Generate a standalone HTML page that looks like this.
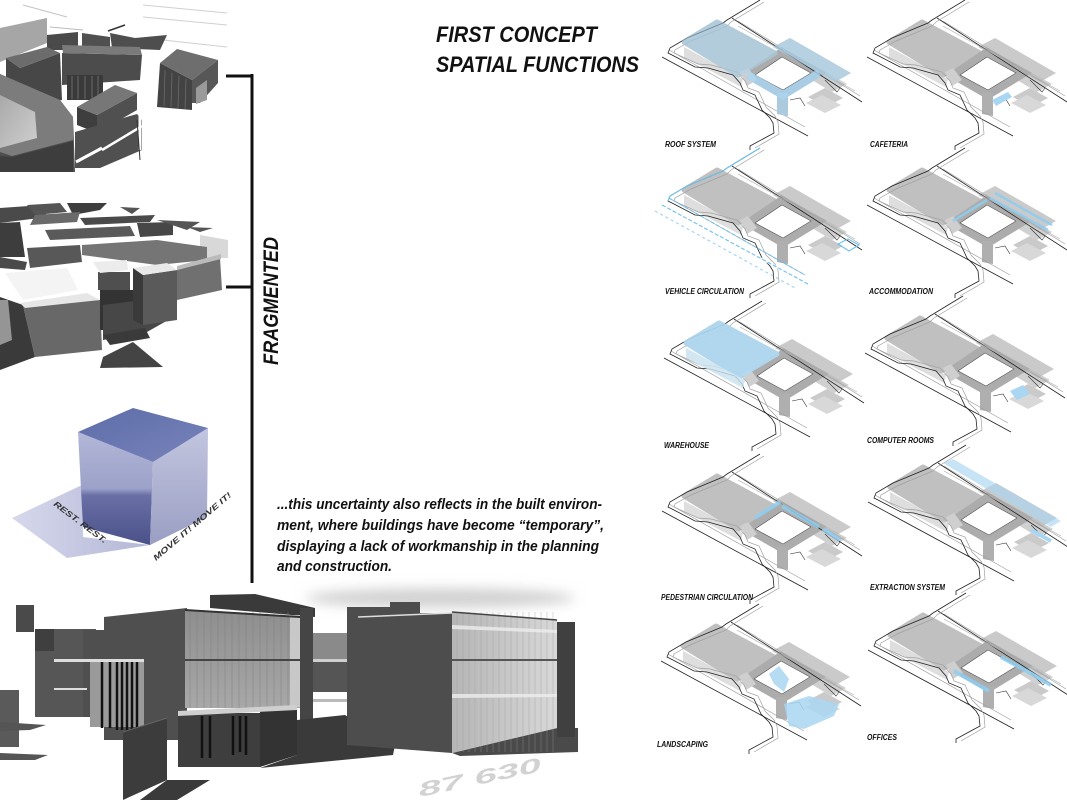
<!DOCTYPE html>
<html>
<head>
<meta charset="utf-8">
<style>
html,body{margin:0;padding:0;background:#fff;}
svg{display:block;}
text{font-family:"Liberation Sans",Arial,sans-serif;font-style:italic;font-weight:bold;}
</style>
</head>
<body>
<svg width="1067" height="800" viewBox="0 0 1067 800" xmlns="http://www.w3.org/2000/svg">
<defs>
  <linearGradient id="lface" x1="0" y1="0" x2="0" y2="1">
    <stop offset="0" stop-color="#b3b7d8"/>
    <stop offset="0.5" stop-color="#9ca1c9"/>
    <stop offset="0.56" stop-color="#6a70a6"/>
    <stop offset="1" stop-color="#4a5189"/>
  </linearGradient>
  <linearGradient id="rface" x1="0" y1="0" x2="0" y2="1">
    <stop offset="0" stop-color="#c3c6df"/>
    <stop offset="1" stop-color="#9a9ec3"/>
  </linearGradient>
  <linearGradient id="tface" x1="0" y1="0" x2="1" y2="1">
    <stop offset="0" stop-color="#5d6ca8"/>
    <stop offset="1" stop-color="#7884bb"/>
  </linearGradient>
  <linearGradient id="shad" x1="0" y1="0" x2="1" y2="0">
    <stop offset="0" stop-color="#d6d8ec"/>
    <stop offset="1" stop-color="#b4b7d6"/>
  </linearGradient>
  <linearGradient id="glass1" x1="0" y1="0" x2="0" y2="1">
    <stop offset="0" stop-color="#8e8e8e"/>
    <stop offset="1" stop-color="#a8a8a8"/>
  </linearGradient>
  <linearGradient id="glass2" x1="0" y1="0" x2="1" y2="0">
    <stop offset="0" stop-color="#b5b5b5"/>
    <stop offset="1" stop-color="#d8d8d8"/>
  </linearGradient>
  <linearGradient id="court" x1="0" y1="0" x2="1" y2="1">
    <stop offset="0" stop-color="#a9a9a9"/>
    <stop offset="1" stop-color="#cfcfcf"/>
  </linearGradient>
  <filter id="blur" x="-20%" y="-100%" width="140%" height="300%">
    <feGaussianBlur stdDeviation="6"/>
  </filter>
  <pattern id="vlines" width="7" height="10" patternUnits="userSpaceOnUse">
    <line x1="1" y1="0" x2="1" y2="10" stroke="#7a7a7a" stroke-width="0.6"/>
  </pattern>
  <pattern id="vlines2" width="6" height="10" patternUnits="userSpaceOnUse">
    <line x1="1" y1="0" x2="1" y2="10" stroke="#9a9a9a" stroke-width="0.6"/>
  </pattern>

  <g id="diag">
    <path d="M889,47 L948,79 L946,87 L889,57 Z" fill="#dedede"/>
    <path d="M889,42 L922,22 L980,53 L943,75 Z" fill="#c0c0c0" stroke="#c0c0c0" stroke-width="5" stroke-linejoin="round"/>
    <path d="M978,47 L995,38 L1056,73 L1040,82 Z" fill="#b4b4b4" opacity="0.7"/>
    <path d="M1012,77 L1027,70 L1052,84 L1037,92 Z" fill="#bcbcbc" opacity="0.7"/>
    <path d="M1013,97 L1030,88 L1048,98 L1031,107 Z" fill="#cacaca"/>
    <path d="M1011,103 L1027,95 L1046,105 L1030,113 Z" fill="#d8d8d8"/>
    <path d="M987,52 L1024,73 L988,95 L953,75 Z" fill="#fff" stroke="#acacac" stroke-width="8"/>
    <path d="M945,72 L953,68 L962,80 L952,86 Z" fill="#cfcfcf"/>
    <path d="M982,93 L993,93 L993,116 L982,114 Z" fill="#afafaf"/>
    <path d="M987,57 L1016,73 L988,90 L960,75 Z" fill="none" stroke="#555" stroke-width="0.6"/>
    <line x1="867" y1="57" x2="1013" y2="136" stroke="#222" stroke-width="0.8"/>
    <line x1="874" y1="50" x2="1010" y2="127" stroke="#a0a0a0" stroke-width="0.7"/>
    <line x1="937" y1="18" x2="1067" y2="102" stroke="#222" stroke-width="0.8"/>
    <line x1="943" y1="21" x2="1065" y2="96" stroke="#a0a0a0" stroke-width="0.7"/>
    <line x1="943" y1="26" x2="1060" y2="91" stroke="#b0b0b0" stroke-width="0.7"/>
    <polyline points="965,0 932,20 928,23 892,38 875,48 873,53 877,55 900,67 913,68 938,75 945,83 948,90 960,95 967,110 975,118 978,123 979,133 955,146 955,150" fill="none" stroke="#222" stroke-width="0.8"/>
    <polyline points="969,2 936,22 932,26 896,41 880,50 879,53 903,64 916,65 942,72 950,81 953,88 964,92 971,107 980,116 983,122 984,134 960,148" fill="none" stroke="#a0a0a0" stroke-width="0.7"/>
    <polyline points="1030,80 1042,92 1045,88" fill="none" stroke="#333" stroke-width="0.6"/>
    <polyline points="995,100 1005,98 1010,106" fill="none" stroke="#333" stroke-width="0.6"/>
  </g>
</defs>

<!-- ============ TOP-LEFT RENDER ============ -->
<g>
  <line x1="23" y1="5" x2="67" y2="17" stroke="#c4c4c4" stroke-width="1"/>
  <line x1="143" y1="5" x2="227" y2="13" stroke="#d0d0d0" stroke-width="1"/>
  <line x1="143" y1="17" x2="227" y2="25" stroke="#d0d0d0" stroke-width="1"/>
  <line x1="163" y1="40" x2="227" y2="47" stroke="#d0d0d0" stroke-width="1"/>
  <line x1="50" y1="27" x2="83" y2="30" stroke="#bbb" stroke-width="1"/>
  <polygon points="0,28 47,18 47,43 0,62" fill="#a6a6a6"/>
  <polygon points="47,35 78,32 78,50 47,50" fill="#4a4a4a"/>
  <polygon points="82,33 110,37 110,47 82,47" fill="#505050"/>
  <polygon points="110,33 135,38 167,35 160,50 112,48" fill="#4e4e4e"/>
  <line x1="108" y1="31" x2="125" y2="25" stroke="#333" stroke-width="1.5"/>
  <polygon points="62,53 142,55 140,80 110,82 62,85" fill="#4c4c4c"/>
  <polygon points="62,45 140,47 142,55 63,53" fill="#7a7a7a"/>
  <rect x="67" y="75" width="36" height="25" fill="#3a3a3a"/>
  <g stroke="#777" stroke-width="0.8"><line x1="72" y1="76" x2="72" y2="99"/><line x1="78" y1="76" x2="78" y2="99"/><line x1="85" y1="76" x2="85" y2="99"/><line x1="92" y1="76" x2="92" y2="99"/><line x1="98" y1="76" x2="98" y2="99"/></g>
  <polygon points="6,58 20,68 60,53 62,100 40,104 6,95" fill="#474747"/>
  <polygon points="6,58 47,47 60,53 20,68" fill="#6c6c6c"/>
  <polygon points="160,63 192,80 192,110 157,107" fill="#434343"/>
  <g stroke="#6a6a6a" stroke-width="0.8"><line x1="165" y1="70" x2="164" y2="106"/><line x1="172" y1="73" x2="171" y2="107"/><line x1="179" y1="76" x2="178" y2="108"/><line x1="186" y1="79" x2="185" y2="109"/></g>
  <polygon points="192,80 218,60 218,83 200,103 192,103" fill="#575757"/>
  <polygon points="196,88 207,80 207,100 196,104" fill="#9a9a9a"/>
  <polygon points="160,63 177,49 218,60 192,80" fill="#6e6e6e"/>
  <polygon points="0,74 60,100 73,117 75,172 0,172" fill="#4e4e4e"/>
  <polygon points="0,74 60,100 73,117 73,140 12,156 0,152" fill="#7c7c7c"/>
  <polygon points="0,95 35,112 37,138 0,148" fill="url(#court)"/>
  <polygon points="0,156 12,157 73,141 73,172 0,172" fill="#3d3d3d"/>
  <polygon points="77,107 97,115 97,133 77,125" fill="#3e3e3e"/>
  <polygon points="97,115 137,93 137,110 97,133" fill="#505050"/>
  <polygon points="77,107 115,85 137,93 97,115" fill="#777"/>
  <polygon points="75,132 137,114 142,120 142,150 100,168 75,168" fill="#505050"/>
  <line x1="76" y1="162" x2="102" y2="148" stroke="#fff" stroke-width="3"/>
  <line x1="102" y1="150" x2="142" y2="126" stroke="#fff" stroke-width="2.5"/>
  <line x1="140" y1="95" x2="140" y2="150" stroke="#fff" stroke-width="3"/>
  <line x1="137" y1="120" x2="140" y2="160" stroke="#333" stroke-width="1"/>
</g>

<!-- ============ MIDDLE-LEFT RENDER ============ -->
<g>
  <polygon points="0,208 43,205 47,217 0,223" fill="#4a4a4a"/>
  <polygon points="27,205 60,203 67,212 35,215" fill="#555"/>
  <polygon points="67,203 107,203 100,210 73,215" fill="#3e3e3e"/>
  <polygon points="35,215 80,212 77,222 30,225" fill="#6a6a6a"/>
  <polygon points="80,218 155,215 150,222 85,225" fill="#4a4a4a"/>
  <polygon points="120,207 140,208 132,214" fill="#555"/>
  <polygon points="137,223 173,222 173,235 140,237" fill="#474747"/>
  <polygon points="157,220 200,222 187,230" fill="#555"/>
  <polygon points="187,227 213,228 200,232" fill="#555"/>
  <polygon points="0,223 20,222 25,257 0,257" fill="#3d3d3d"/>
  <polygon points="45,230 130,226 135,236 50,240" fill="#5a5a5a"/>
  <polygon points="200,235 228,240 228,258 200,258" fill="#d8d8d8"/>
  <polygon points="82,245 157,240 207,247 207,260 157,265 82,255" fill="#757575"/>
  <polygon points="27,248 80,245 82,262 30,268" fill="#585858"/>
  <polygon points="0,257 27,262 25,270 0,268" fill="#4a4a4a"/>
  <polygon points="0,297 23,305 35,357 0,370" fill="#3a3a3a"/>
  <polygon points="23,305 100,300 102,350 35,357" fill="#686868"/>
  <polygon points="5,273 67,268 78,290 23,300" fill="#f4f4f4"/>
  <polygon points="20,303 87,293 100,300 25,308" fill="#e6e6e6"/>
  <rect x="98" y="272" width="32" height="18" fill="#4f4f4f"/>
  <polygon points="93,262 127,260 128,270 100,273" fill="#ececec"/>
  <rect x="100" y="290" width="47" height="40" fill="#333"/>
  <polygon points="103,305 143,300 177,300 177,315 147,332 103,340" fill="#474747"/>
  <polygon points="133,268 143,275 143,325 133,320" fill="#3a3a3a"/>
  <polygon points="143,275 177,270 177,320 143,325" fill="#5a5a5a"/>
  <polygon points="133,268 167,263 177,270 143,275" fill="#e8e8e8"/>
  <polygon points="177,270 220,258 222,290 177,300" fill="#707070"/>
  <polygon points="177,266 221,254 221,259 177,270" fill="#bbb"/>
  <polygon points="103,335 145,328 150,338 110,345" fill="#3a3a3a"/>
  <polygon points="133,342 163,367 100,368 103,357" fill="#444"/>
  <polygon points="0,300 8,300 12,340 0,345" fill="#f0f0f0" opacity="0.5"/>
</g>

<!-- ============ CUBE ============ -->
<g>
  <polygon points="12,518 82,485 83,537 150,545 67,558" fill="url(#shad)"/>
  <polygon points="78,432 153,462 150,545 83,527" fill="url(#lface)"/>
  <polygon points="153,462 208,428 207,517 150,545" fill="url(#rface)"/>
  <polygon points="78,432 133,408 208,428 153,462" fill="url(#tface)"/>
  <text transform="translate(53,505) rotate(37)" font-size="8" fill="#333" font-style="normal" textLength="64" lengthAdjust="spacingAndGlyphs">REST. REST.</text>
  <text transform="translate(156,561) rotate(-40.6)" font-size="8" fill="#333" font-style="normal" textLength="100" lengthAdjust="spacingAndGlyphs">MOVE IT! MOVE IT!</text>
</g>

<!-- ============ BOTTOM RENDER ============ -->
<g>
  <ellipse cx="440" cy="598" rx="135" ry="10" fill="#d2d2d2" filter="url(#blur)"/>
  <rect x="16" y="605" width="18" height="27" fill="#4a4a4a"/>
  <rect x="35" y="629" width="61" height="88" fill="#565656"/>
  <rect x="35" y="629" width="19" height="22" fill="#3f3f3f"/>
  <rect x="0" y="690" width="19" height="57" fill="#5a5a5a"/>
  <polygon points="0,722 46,725 30,730 0,731" fill="#555"/>
  <polygon points="0,753 48,755 35,760 0,760" fill="#555"/>
  <polygon points="83,630 104,630 104,617 187,608 187,740 104,740 104,717 83,717" fill="#4f4f4f"/>
  <rect x="90" y="661" width="54" height="66" fill="#9a9a9a"/>
  <g stroke="#111" stroke-width="2.5">
    <line x1="102" y1="662" x2="102" y2="728"/><line x1="110" y1="662" x2="110" y2="728"/><line x1="117" y1="662" x2="117" y2="730"/><line x1="122" y1="662" x2="122" y2="730"/><line x1="127" y1="662" x2="127" y2="732"/><line x1="132" y1="662" x2="132" y2="732"/><line x1="137" y1="662" x2="137" y2="732"/>
  </g>
  <rect x="54" y="659" width="90" height="3" fill="#ddd"/>
  <rect x="54" y="688" width="33" height="2" fill="#ddd"/>
  <polygon points="210,595 255,594 315,608 315,617 210,608" fill="#3a3a3a"/>
  <polygon points="185,610 300,617 300,708 185,708" fill="url(#glass1)"/>
  <rect x="185" y="612" width="105" height="96" fill="url(#vlines)" opacity="0.7"/>
  <rect x="290" y="615" width="10" height="92" fill="#c8c8c8"/>
  <line x1="185" y1="660" x2="300" y2="660" stroke="#444" stroke-width="2"/>
  <line x1="185" y1="610" x2="300" y2="617" stroke="#333" stroke-width="2"/>
  <rect x="300" y="608" width="13" height="129" fill="#454545"/>
  <polygon points="297,720 345,715 395,745 393,755 260,768 297,755" fill="#3a3a3a"/>
  <polygon points="178,713 260,713 260,767 178,767" fill="#3e3e3e"/>
  <polygon points="260,710 297,708 297,755 260,767" fill="#333"/>
  <polygon points="178,711 297,705 297,710 178,716" fill="#cfcfcf"/>
  <g stroke="#111" stroke-width="2.5">
    <line x1="202" y1="716" x2="202" y2="758"/><line x1="210" y1="716" x2="210" y2="758"/><line x1="233" y1="716" x2="233" y2="755"/><line x1="240" y1="716" x2="240" y2="752"/><line x1="246" y1="716" x2="246" y2="755"/>
  </g>
  <polygon points="123,732 167,718 167,780 123,800" fill="#3c3c3c"/>
  <line x1="123" y1="732" x2="167" y2="718" stroke="#666" stroke-width="1"/>
  <polygon points="140,800 167,780 210,780 177,800" fill="#3a3a3a"/>
  <rect x="313" y="633" width="34" height="30" fill="#8a8a8a"/>
  <rect x="313" y="662" width="34" height="30" fill="#555"/>
  <rect x="313" y="659" width="69" height="3" fill="#cfcfcf"/>
  <rect x="313" y="699" width="67" height="3" fill="#bbb"/>
  <polygon points="347,663 382,663 363,690 395,745 347,745" fill="#474747"/>
  <polygon points="347,607 390,607 390,602 420,602 420,613 452,613 452,753 347,745" fill="#4d4d4d"/>
  <line x1="358" y1="617" x2="452" y2="613" stroke="#ddd" stroke-width="1.5"/>
  <polygon points="452,753 557,728 578,728 578,752 460,756" fill="#4a4a4a"/>
  <polygon points="452,612 557,620 557,728 452,753" fill="url(#glass2)"/>
  <rect x="452" y="612" width="105" height="140" fill="url(#vlines2)" opacity="0.6"/>
  <polygon points="452,625 557,630 557,633 452,629" fill="#eee" opacity="0.8"/>
  <polygon points="452,694 557,694 557,697 452,698" fill="#eee" opacity="0.8"/>
  <line x1="452" y1="660" x2="557" y2="660" stroke="#555" stroke-width="2"/>
  <line x1="452" y1="612" x2="557" y2="620" stroke="#444" stroke-width="1.5"/>
  <rect x="557" y="622" width="18" height="115" fill="#404040"/>
  <text transform="translate(420,797) rotate(-12)" font-size="20" fill="#d2d2d2" font-style="normal" textLength="125" lengthAdjust="spacingAndGlyphs">87 630</text>
</g>

<!-- bracket -->
<line x1="252" y1="74" x2="252" y2="583" stroke="#111" stroke-width="3"/>
<line x1="226" y1="76" x2="253" y2="76" stroke="#111" stroke-width="3"/>
<line x1="226" y1="287" x2="253" y2="287" stroke="#111" stroke-width="3"/>
<text transform="translate(278,365) rotate(-90)" font-size="21" fill="#111" textLength="128" lengthAdjust="spacingAndGlyphs">FRAGMENTED</text>

<!-- title -->
<text x="436" y="42" font-size="22" fill="#111" textLength="161" lengthAdjust="spacingAndGlyphs">FIRST CONCEPT</text>
<text x="436" y="72" font-size="22" fill="#111" textLength="203" lengthAdjust="spacingAndGlyphs">SPATIAL FUNCTIONS</text>

<!-- paragraph -->
<g font-size="15" fill="#111">
  <text x="277" y="509" textLength="325" lengthAdjust="spacingAndGlyphs">...this uncertainty also reflects in the built environ-</text>
  <text x="277" y="530" textLength="327" lengthAdjust="spacingAndGlyphs">ment, where buildings have become “temporary”,</text>
  <text x="277" y="551" textLength="322" lengthAdjust="spacingAndGlyphs">displaying a lack of workmanship in the planning</text>
  <text x="277" y="571" textLength="115" lengthAdjust="spacingAndGlyphs">and construction.</text>
</g>

<!-- ============ DIAGRAMS ============ -->
<g transform="translate(-205,0)">
  <use href="#diag"/>
  <path d="M889,42 L922,22 L980,53 L943,75 Z" fill="#a9d6f2" opacity="0.55" stroke="#a9d6f2" stroke-width="5" stroke-linejoin="round"/>
  <path d="M978,47 L995,38 L1056,73 L1040,82 Z" fill="#a9d6f2" opacity="0.6"/>
  <polyline points="953,75 988,95 1024,73" fill="none" stroke="#a9d6f2" stroke-width="8" opacity="0.8"/>
  <path d="M982,93 L993,93 L993,116 L982,114 Z" fill="#a9d6f2" opacity="0.7"/>
</g>
<g>
  <use href="#diag"/>
  <path d="M992,100 L1008,92 L1012,97 L996,106 Z" fill="#a9d6f2"/>
</g>
<g transform="translate(-205,148)">
  <use href="#diag"/>
  <g fill="none" stroke-width="1.1">
    <line x1="867" y1="57" x2="1013" y2="136" stroke="#fff" stroke-width="2.2"/>
    <line x1="867" y1="57" x2="1013" y2="136" stroke="#6fc0ee" stroke-dasharray="4,2"/>
    <line x1="874" y1="50" x2="1010" y2="127" stroke="#6fc0ee" stroke-dasharray="4,2"/>
    <line x1="860" y1="63" x2="1000" y2="140" stroke="#9fd3f2" stroke-dasharray="3,3"/>
    <polyline points="965,0 932,20 928,23 892,38 875,48 873,53" stroke="#6fc0ee"/>
    <path d="M1043,96 L1053,91 L1064,97 L1054,103 Z" stroke="#6fc0ee"/>
  </g>
</g>
<g transform="translate(0,148)">
  <use href="#diag"/>
  <g fill="none" stroke="#8fcdf0" stroke-width="2.5" opacity="0.9">
    <line x1="953" y1="73" x2="987" y2="52"/>
    <line x1="990" y1="50" x2="1048" y2="82"/>
    <line x1="995" y1="45" x2="1052" y2="77"/>
  </g>
</g>
<g transform="translate(-203,301)">
  <use href="#diag"/>
  <path d="M889,42 L922,22 L980,53 L943,75 Z" fill="#b0daf4" opacity="0.9" stroke="#b0daf4" stroke-width="5" stroke-linejoin="round"/>
  <path d="M889,47 L948,79 L946,87 L889,57 Z" fill="#cfe8f7" opacity="0.8"/>
</g>
<g transform="translate(-2,296)">
  <use href="#diag"/>
  <path d="M1012,95 L1025,89 L1032,98 L1019,104 Z" fill="#a9d6f2"/>
</g>
<g transform="translate(-205,454)">
  <use href="#diag"/>
  <g fill="none" stroke="#8fcdf0" stroke-width="4" opacity="0.85">
    <line x1="987" y1="52" x2="1024" y2="73"/>
    <line x1="1028" y1="75" x2="1045" y2="86"/>
    <line x1="985" y1="48" x2="960" y2="64"/>
  </g>
</g>
<g transform="translate(1,445)">
  <use href="#diag"/>
  <path d="M942,18 L952,14 L1060,76 L1050,82 Z" fill="#a9d6f2" opacity="0.65"/>
  <line x1="1030" y1="85" x2="1050" y2="96" stroke="#a9d6f2" stroke-width="4"/>
</g>
<g transform="translate(-206,604)">
  <use href="#diag"/>
  <path d="M975,70 L985,62 L995,75 L990,88 L980,80 Z" fill="#a9d6f2" opacity="0.85"/>
  <path d="M990,100 L1015,92 L1045,100 L1040,112 L1010,125 L995,122 Z" fill="#a9d6f2" opacity="0.85"/>
</g>
<g transform="translate(1,593)">
  <use href="#diag"/>
  <g fill="none" stroke="#8fcdf0" stroke-width="4" opacity="0.85">
    <line x1="953" y1="78" x2="988" y2="98"/>
    <line x1="1015" y1="72" x2="1050" y2="92"/>
    <line x1="1000" y1="64" x2="1020" y2="75"/>
  </g>
</g>

<g font-size="8" fill="#111">
  <text x="665" y="147" textLength="51" lengthAdjust="spacingAndGlyphs">ROOF SYSTEM</text>
  <text x="870" y="147" textLength="38" lengthAdjust="spacingAndGlyphs">CAFETERIA</text>
  <text x="665" y="294" textLength="79" lengthAdjust="spacingAndGlyphs">VEHICLE CIRCULATION</text>
  <text x="869" y="294" textLength="64" lengthAdjust="spacingAndGlyphs">ACCOMMODATION</text>
  <text x="664" y="448" textLength="45" lengthAdjust="spacingAndGlyphs">WAREHOUSE</text>
  <text x="867" y="443" textLength="67" lengthAdjust="spacingAndGlyphs">COMPUTER ROOMS</text>
  <text x="661" y="600" textLength="92" lengthAdjust="spacingAndGlyphs">PEDESTRIAN CIRCULATION</text>
  <text x="870" y="590" textLength="75" lengthAdjust="spacingAndGlyphs">EXTRACTION SYSTEM</text>
  <text x="657" y="747" textLength="51" lengthAdjust="spacingAndGlyphs">LANDSCAPING</text>
  <text x="867" y="740" textLength="30" lengthAdjust="spacingAndGlyphs">OFFICES</text>
</g>
</svg>
</body>
</html>
